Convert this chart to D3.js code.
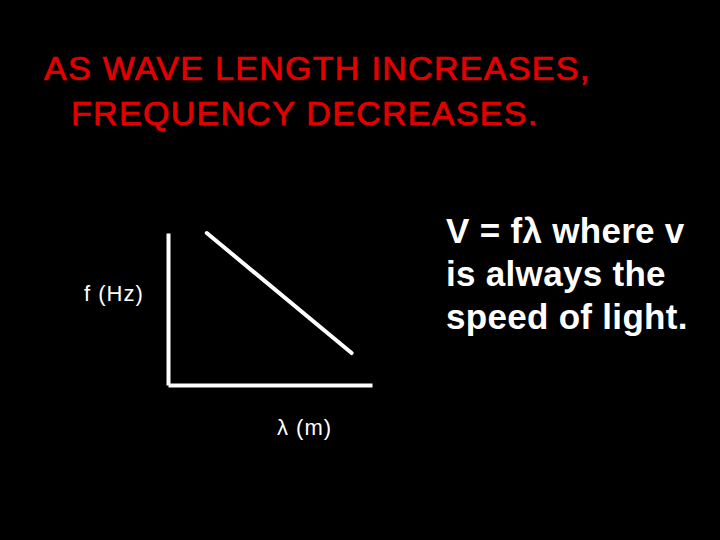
<!DOCTYPE html>
<html lang="en">
<head>
  <meta charset="UTF-8">
  <title>Wavelength vs Frequency</title>
  <script src="https://d3js.org/d3.v7.min.js"></script>
  <style>
    body { margin: 0; background: black; }
    text { font-family: 'Liberation Sans', Arial, sans-serif; }
  </style>
</head>
<body>
  <svg width="720" height="540"></svg>

  <script>
    // The data
    const titleLines = ["AS WAVE LENGTH INCREASES,", "FREQUENCY DECREASES."];
    const noteLines = ["V = fλ where v", "is always the", "speed of light."];
    const wavelength = [1.9, 9];
    const frequency = [10, 2.1];

    const svg = d3.select("svg");
    svg.append("rect").attr("width", 720).attr("height", 540).attr("fill", "black");

    const margin = { top: 233, left: 168 };
    const width = 204, height = 152;
    const g = svg.append("g").attr("transform", "translate(" + margin.left + "," + margin.top + ")");

    // Scales
    const x = d3.scaleLinear().domain([0, 10]).range([0, width]);
    const y = d3.scaleLinear().domain([0, 10]).range([height, 0]);

    // Axes (no ticks)
    g.append("g")
      .attr("transform", "translate(0," + height + ")")
      .call(d3.axisBottom(x).ticks(0).tickSizeOuter(0))
      .select(".domain").attr("stroke", "white").attr("stroke-width", 4);

    g.append("g")
      .call(d3.axisLeft(y).ticks(0).tickSizeOuter(0))
      .select(".domain").attr("stroke", "white").attr("stroke-width", 4);

    // The line
    const pts = wavelength.map((w, i) => [w, frequency[i]]);
    g.append("path")
      .datum(pts)
      .attr("fill", "none")
      .attr("stroke", "white")
      .attr("stroke-width", 4)
      .attr("stroke-linecap", "round")
      .attr("d", d3.line().x(d => x(d[0])).y(d => y(d[1])));

    // Axis labels
    svg.append("text")
      .attr("x", 84).attr("y", 301)
      .attr("fill", "white").style("font-size", "22px")
      .style("letter-spacing", "1px")
      .text("f (Hz)");

    svg.append("text")
      .attr("x", 277).attr("y", 435)
      .attr("fill", "white").style("font-size", "22px")
      .style("letter-spacing", "1px")
      .text("λ (m)");

    // Title
    svg.selectAll(".title")
      .data(titleLines)
      .enter().append("text")
      .attr("class", "title")
      .attr("x", (d, i) => i === 0 ? 44 : 71)
      .attr("y", (d, i) => 80 + i * 45)
      .attr("fill", "#e50000")
      .attr("stroke", "#e50000")
      .attr("stroke-width", 0.7)
      .style("font-size", "34px")
      .style("letter-spacing", "1.3px")
      .text(d => d);

    // Note
    svg.selectAll(".note")
      .data(noteLines)
      .enter().append("text")
      .attr("class", "note")
      .attr("x", 446)
      .attr("y", (d, i) => 243 + i * 43)
      .attr("fill", "white")
      .style("font-size", "35px")
      .style("font-weight", "bold")
      .style("letter-spacing", "0.3px")
      .text(d => d);
  </script>
</body>
</html>
